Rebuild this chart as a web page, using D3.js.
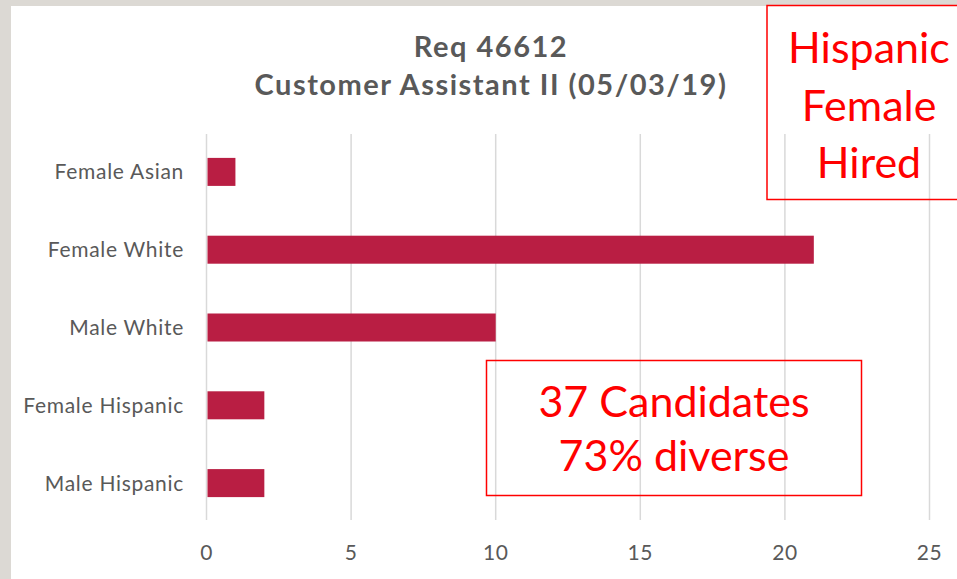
<!DOCTYPE html>
<html>
<head>
<meta charset="utf-8">
<script src="https://cdn.jsdelivr.net/npm/d3@7"></script>
<style>
  html, body { margin: 0; padding: 0; background: #dcd9d4; }
  svg { display: block; font-family: Lato, "Open Sans", sans-serif; }
</style>
</head>
<body>
<svg id="chart" width="957" height="579"></svg>
<script>
// chart data
const categories = ['Female Asian', 'Female White', 'Male White', 'Female Hispanic', 'Male Hispanic'];
const counts = [1, 21, 10, 2, 2];
const tickValues = [0, 5, 10, 15, 20, 25];
const titleLines = ['Req 46612', 'Customer Assistant II (05/03/19)'];
const hiredLines = ['Hispanic', 'Female', 'Hired'];
const summaryLines = ['37 Candidates', '73% diverse'];

const svg = d3.select('#chart');

// white slide panel
svg.append('rect')
  .attr('x', 11).attr('y', 6)
  .attr('width', 957 - 11).attr('height', 579 - 6)
  .attr('fill', '#ffffff');

const x = d3.scaleLinear().domain([0, 25]).range([206.5, 929.5]);
const y = d3.scaleBand().domain(categories).range([133, 522]).paddingInner(0.64).paddingOuter(0.32);

// gridlines
svg.append('g').selectAll('line')
  .data(tickValues)
  .join('line')
  .attr('x1', d => x(d)).attr('x2', d => x(d))
  .attr('y1', 134).attr('y2', 520)
  .attr('stroke', '#d9d9d9')
  .attr('stroke-width', 1.5);

// bars
svg.append('g').selectAll('rect')
  .data(counts)
  .join('rect')
  .attr('x', x(0) + 1)
  .attr('y', (d, i) => y(categories[i]))
  .attr('width', d => x(d) - x(0) - 1)
  .attr('height', y.bandwidth())
  .attr('fill', '#b91e43');

// category labels
svg.append('g').selectAll('text')
  .data(categories)
  .join('text')
  .attr('x', 184)
  .attr('y', d => y(d) + y.bandwidth() / 2)
  .attr('dy', '0.36em')
  .attr('text-anchor', 'end')
  .attr('font-size', 21)
  .attr('letter-spacing', 0.7)
  .attr('fill', '#595959')
  .text(d => d);

// x tick labels
svg.append('g').selectAll('text')
  .data(tickValues)
  .join('text')
  .attr('x', d => x(d))
  .attr('y', 560)
  .attr('text-anchor', 'middle')
  .attr('font-size', 21)
  .attr('letter-spacing', 0.5)
  .attr('fill', '#595959')
  .text(d => d);

// title
svg.append('g').selectAll('text')
  .data(titleLines)
  .join('text')
  .attr('x', 491)
  .attr('y', (d, i) => 57 + i * 38)
  .attr('text-anchor', 'middle')
  .attr('font-size', 29)
  .attr('font-weight', 'bold')
  .attr('letter-spacing', 1.5)
  .attr('fill', '#595959')
  .text(d => d);

// callout boxes (outline only, gridlines show through)
function callout(bx, by, bw, bh, lines, cx, y0, step) {
  const g = svg.append('g');
  g.append('rect')
    .attr('x', bx).attr('y', by)
    .attr('width', bw).attr('height', bh)
    .attr('fill', 'none')
    .attr('stroke', '#ff0000')
    .attr('stroke-width', 1.5);
  g.selectAll('text')
    .data(lines)
    .join('text')
    .attr('x', cx)
    .attr('y', (d, i) => y0 + i * step)
    .attr('text-anchor', 'middle')
    .attr('font-size', 43)
    .attr('fill', '#ff0000')
    .text(d => d);
}

callout(767, 5.5, 200, 194, hiredLines, 869, 63, 57.5);
callout(486.5, 360.5, 375, 135, summaryLines, 674, 417, 54);
</script>
</body>
</html>
